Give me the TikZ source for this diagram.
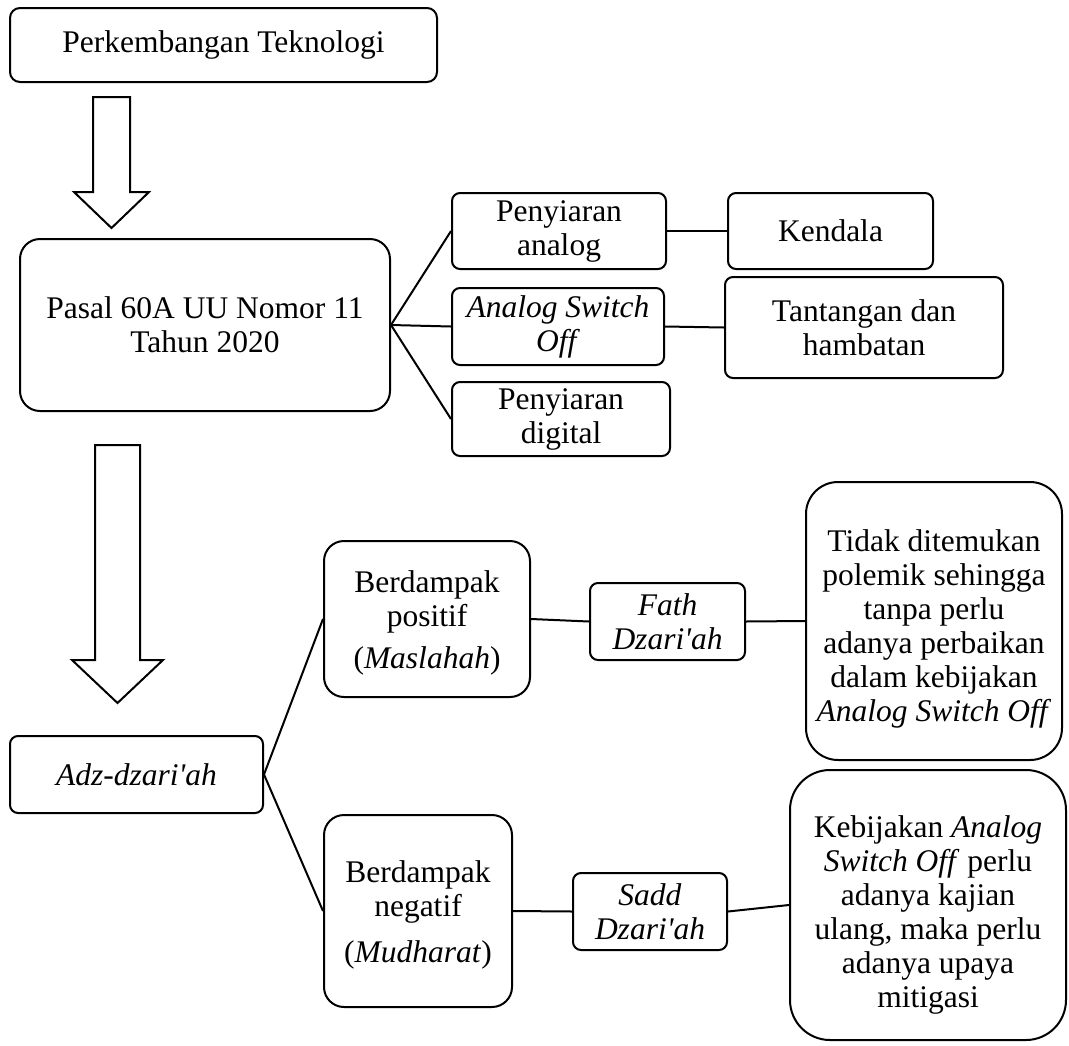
\documentclass[tikz,border=0pt]{standalone}
\usepackage{fontspec}
\setmainfont{Liberation Serif}[Ligatures=TeXOff]
\begin{document}
\begin{tikzpicture}[x=1pt,y=-1pt,
  txt/.style={font=\fontsize{31.5}{34}\selectfont, align=center, inner sep=0pt},
  box/.style={txt, draw, line width=2pt, rounded corners=#1},
  box/.default=8pt,
  link/.style={line width=2pt},
  blockarrow/.style={draw, line width=2pt, fill=white, line join=miter}]
\useasboundingbox (0,0) rectangle (1069,1045);

% top chain
\node[box=10pt, minimum width=427pt, minimum height=74pt] (tek) at (223.5,45) {Perkembangan Teknologi};
\node[box=20pt, minimum width=370pt, minimum height=172pt] (pasal) at (205,325) {Pasal 60A UU Nomor 11\\Tahun 2020};

\node[box, minimum width=214pt, minimum height=76pt] (pa) at (559,231) {Penyiaran\\analog};
\node[box, minimum width=205pt, minimum height=76pt] (kend) at (830.5,231) {Kendala};
\node[box, minimum width=212pt, minimum height=77pt] (aso) at (558,326.5) {\textit{Analog Switch}\\\textit{Off}};
\node[box, minimum width=278pt, minimum height=101pt] (tant) at (864,327.5) {Tantangan dan\\hambatan};
\node[box, minimum width=218pt, minimum height=74pt] (pd) at (561,419) {Penyiaran\\digital};

% lower part
\node[box, minimum width=253pt, minimum height=77pt] (adz) at (136.5,774.5) {\textit{Adz-dzari'ah}};
\node[box=20pt, minimum width=206pt, minimum height=156pt] (pos) at (427,619) {\rule{0pt}{30pt}Berdampak\\positif\\[8pt](\textit{Maslahah})};
\node[box, minimum width=155pt, minimum height=77pt] (fath) at (667.5,621.5) {\textit{Fath}\\\textit{Dzari'ah}};
\node[box=32pt, minimum width=256pt, minimum height=278pt] (tidak) at (934,621) {\rule{0pt}{38pt}Tidak ditemukan\\polemik sehingga\\tanpa perlu\\adanya perbaikan\\dalam kebijakan\\\textit{Analog Switch Off}};
\node[box=20pt, minimum width=188pt, minimum height=192pt] (neg) at (418,911) {\rule{0pt}{30pt}Berdampak\\negatif\\[12pt](\textit{Mudharat})};
\node[box, minimum width=154pt, minimum height=77pt] (sadd) at (650,911.5) {\textit{Sadd}\\\textit{Dzari'ah}};
\node[box=40pt, minimum width=276pt, minimum height=270pt] (keb) at (928,905) {\rule{0pt}{42pt}Kebijakan \textit{Analog}\\\textit{Switch Off} perlu\\adanya kajian\\ulang, maka perlu\\adanya upaya\\mitigasi};

% block arrows
\draw[blockarrow] (93,97) -- (130,97) -- (130,192) -- (149,192) -- (111.5,228) -- (74,192) -- (93,192) -- cycle;
\draw[blockarrow] (95,445) -- (140,445) -- (140,660) -- (163,660) -- (117.5,703) -- (72,660) -- (95,660) -- cycle;

% connectors
\draw[link] (pasal.east) -- (pa.west);
\draw[link] (pasal.east) -- (aso.west);
\draw[link] (pasal.east) -- (pd.west);
\draw[link] (pa.east) -- (kend.west);
\draw[link] (aso.east) -- (tant.west);
\draw[link] (adz.east) -- (pos.west);
\draw[link] (adz.east) -- (neg.west);
\draw[link] (pos.east) -- (fath.west);
\draw[link] (fath.east) -- (tidak.west);
\draw[link] (neg.east) -- (sadd.west);
\draw[link] (sadd.east) -- (keb.west);
\end{tikzpicture}
\end{document}
